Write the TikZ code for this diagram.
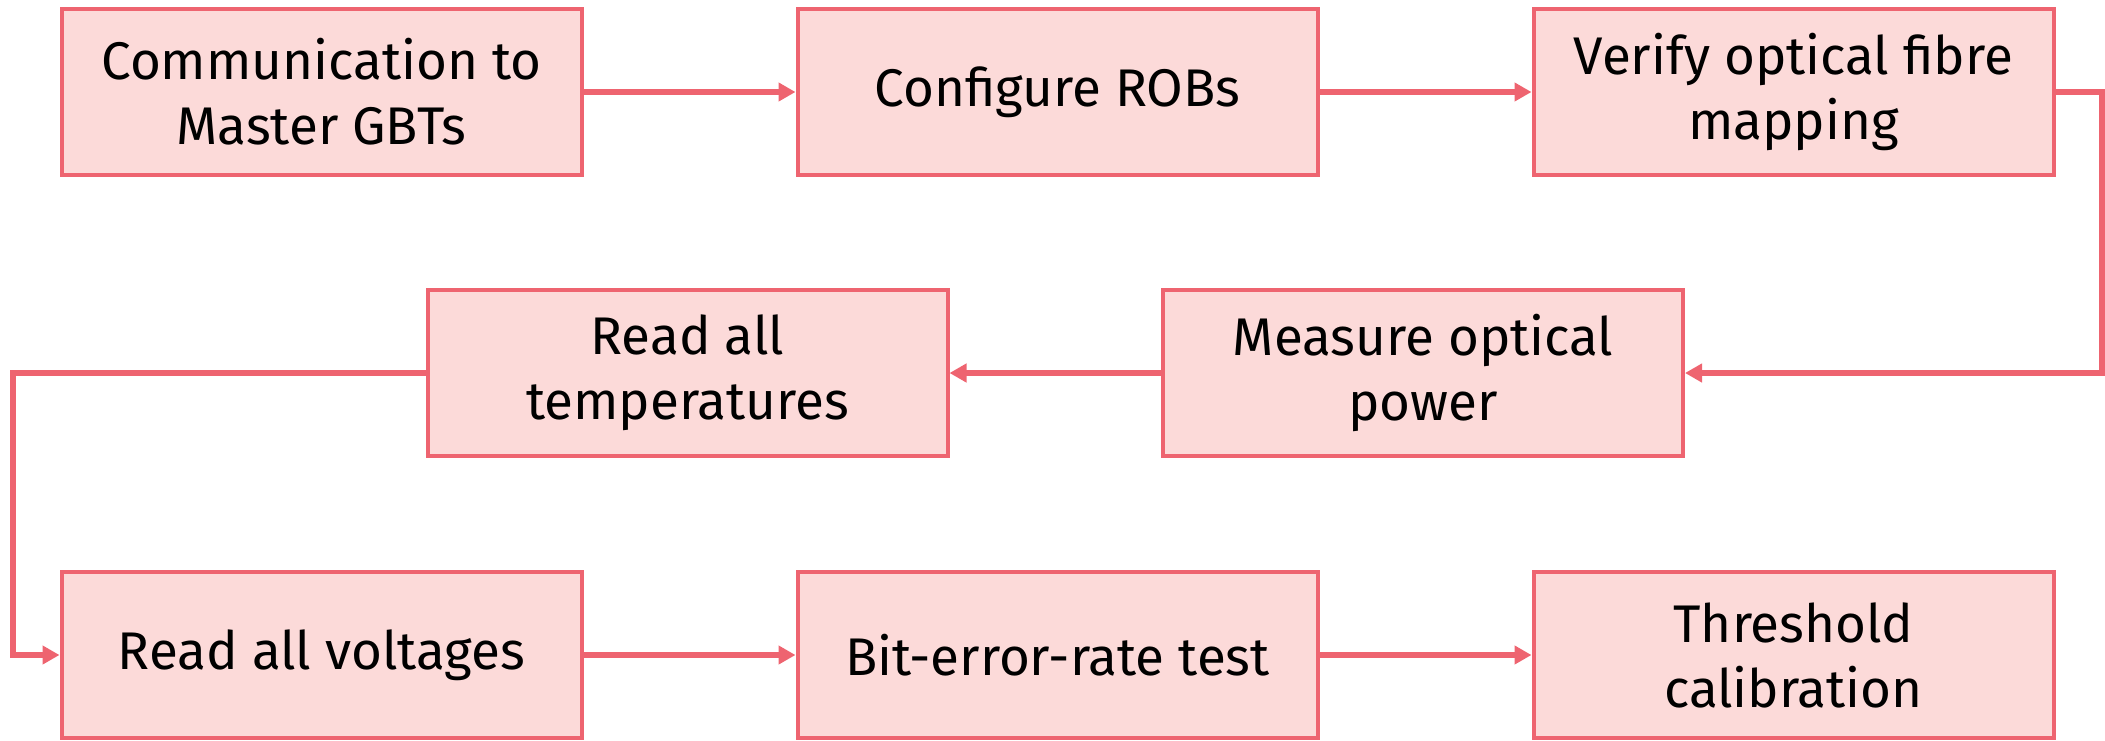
\documentclass[tikz,border=0pt]{standalone}
\usepackage{fontspec}
\setmainfont{Fira Sans}
\usetikzlibrary{arrows.meta}
\definecolor{boxfill}{HTML}{FCDAD9}
\definecolor{boxline}{HTML}{EE6470}
\tikzset{
  stepbox/.style={draw=boxline, fill=boxfill, line width=4pt,
    minimum width=520pt, minimum height=166pt, inner sep=0pt,
    align=center, font=\fontsize{53pt}{65pt}\selectfont},
  flow/.style={draw=boxline, line width=6pt,
    -{Triangle[length=17pt,width=18pt]}}
}
\begin{document}
\begin{tikzpicture}[x=1pt,y=-1pt]
\useasboundingbox (0,0) rectangle (2105,740);
% first row
\node[stepbox] (comm) at (321.5,92) {Communication to\\Master GBTs};
\node[stepbox] (rob)  at (1057.5,92) {Configure ROBs};
\node[stepbox] (fibre) at (1793.5,92) {Verify optical fibre\\mapping};
% second row
\node[stepbox] (temp)  at (687.5,373) {Read all\\temperatures};
\node[stepbox] (power) at (1423,373) {Measure optical\\power};
% third row
\node[stepbox] (volt) at (321.5,655) {Read all voltages};
\node[stepbox] (ber)  at (1057.5,655) {Bit-error-rate test};
\node[stepbox] (thr)  at (1793.5,655) {Threshold\\calibration};
% connectors
\coordinate (rturn) at (2101.5,0);
\coordinate (lturn) at (13,0);
\draw[flow] (comm) -- (rob);
\draw[flow] (rob) -- (fibre);
\draw[flow] (fibre.east) -- (fibre.east -| rturn) |- (power.east);
\draw[flow] (power) -- (temp);
\draw[flow] (temp.west) -- (temp.west -| lturn) |- (volt.west);
\draw[flow] (volt) -- (ber);
\draw[flow] (ber) -- (thr);
\end{tikzpicture}
\end{document}
